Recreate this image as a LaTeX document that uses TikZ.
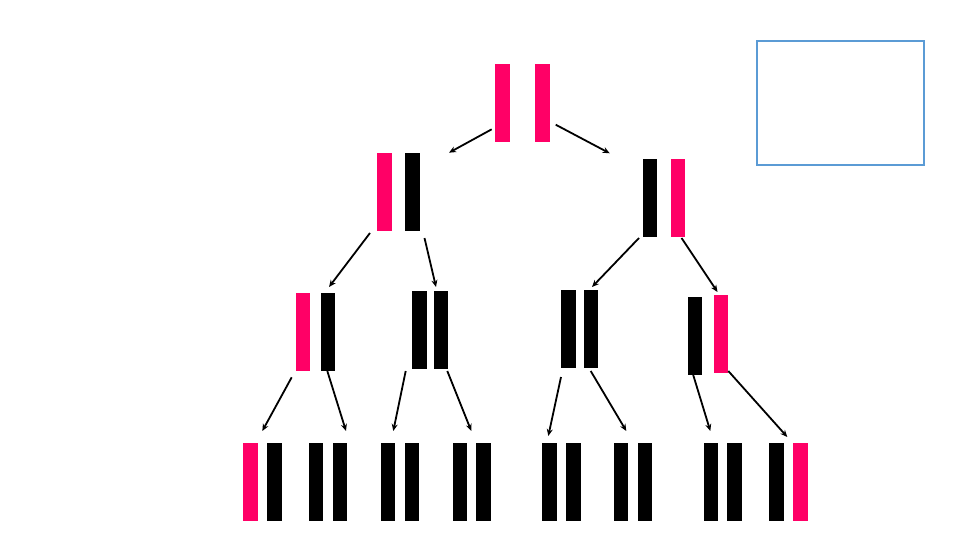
\documentclass[tikz,border=0pt]{standalone}
\usetikzlibrary{arrows.meta}
\definecolor{barpink}{HTML}{FF0066}
\definecolor{boxblue}{HTML}{5B9BD5}
\tikzset{
  bar/.style={rectangle, inner sep=0pt, outer sep=0pt, minimum width=14.5pt, minimum height=78pt, anchor=north west, draw=none},
  pk/.style={bar, fill=barpink},
  bk/.style={bar, fill=black},
  arr/.style={line width=1.8pt, -{Stealth[length=7pt,width=6pt]}},
}
\begin{document}
\begin{tikzpicture}[x=1pt,y=-1pt]
\useasboundingbox (0,0) rectangle (960,540);
\fill[white] (0,0) rectangle (960,540);
% blue box
\node[draw=boxblue, line width=1.6pt, minimum width=167pt, minimum height=124pt, anchor=north west, inner sep=0pt, outer sep=0pt] (box) at (757,41) {};
% level 1
\node[pk] (t1) at (495,64) {};
\node[pk] (t2) at (535,64) {};
% level 2
\node[pk] (l1) at (377,153) {};
\node[bk] (l2) at (405,153) {};
\node[bk] (r1) at (642.5,159) {};
\node[pk] (r2) at (670.5,159) {};
% level 3
\node[pk] (a1) at (295.5,292.5) {};
\node[bk] (a2) at (320.5,293) {};
\node[bk] (b1) at (412,291) {};
\node[bk] (b2) at (433.5,291) {};
\node[bk] (c1) at (561,289.5) {};
\node[bk] (c2) at (583.5,289.5) {};
\node[bk] (d1) at (687.5,296.5) {};
\node[pk] (d2) at (713.5,295) {};
% level 4
\node[pk] (g1a) at (243,443) {};
\node[bk] (g1b) at (267,443) {};
\node[bk] (g2a) at (308.5,443) {};
\node[bk] (g2b) at (332.5,443) {};
\node[bk] (g3a) at (380.5,443) {};
\node[bk] (g3b) at (404.5,443) {};
\node[bk] (g4a) at (452.5,443) {};
\node[bk] (g4b) at (476,443) {};
\node[bk] (g5a) at (542,443) {};
\node[bk] (g5b) at (566,443) {};
\node[bk] (g6a) at (613.5,443) {};
\node[bk] (g6b) at (637.5,443) {};
\node[bk] (g7a) at (703.5,443) {};
\node[bk] (g7b) at (727,443) {};
\node[bk] (g8a) at (769,443) {};
\node[pk] (g8b) at (793,443) {};
% arrow end points
\coordinate (s1) at (491.7,129.3); \coordinate (e1) at (449,152.7);
\coordinate (s2) at (555.7,124.7); \coordinate (e2) at (609.7,153.3);
\coordinate (s3) at (370,233);    \coordinate (e3) at (329,287);
\coordinate (s4) at (424.5,238);  \coordinate (e4) at (436,287);
\coordinate (s5) at (639,238);    \coordinate (e5) at (592,287);
\coordinate (s6) at (681.5,238);  \coordinate (e6) at (717.5,292);
\coordinate (s7) at (291.7,377.3); \coordinate (e7) at (262.3,431);
\coordinate (s8) at (327.3,371);  \coordinate (e8) at (346,431);
\coordinate (s9) at (405.7,371);  \coordinate (e9) at (393.3,431);
\coordinate (s10) at (447.3,371); \coordinate (e10) at (471.3,431);
\coordinate (s11) at (561,377);   \coordinate (e11) at (548.3,436);
\coordinate (s12) at (590.7,371); \coordinate (e12) at (626.3,431);
\coordinate (s13) at (693,374.3); \coordinate (e13) at (710.3,431);
\coordinate (s14) at (728.3,371); \coordinate (e14) at (787.3,437);
\foreach \i in {1,...,14} { \draw[arr] (s\i) -- (e\i); }
\end{tikzpicture}
\end{document}
